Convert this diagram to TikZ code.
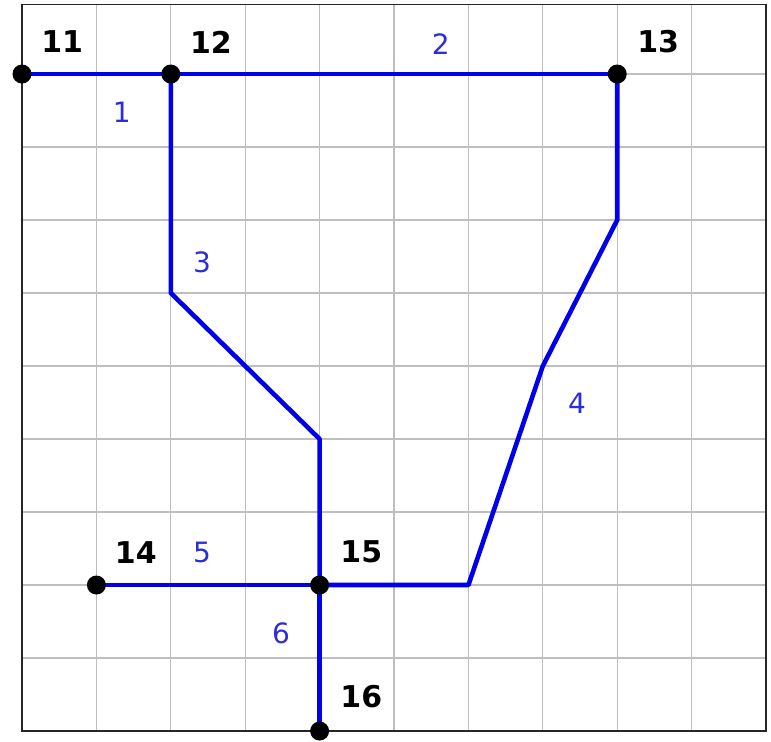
\documentclass[tikz,border=0pt]{standalone}
\usepackage{fontspec}
\setmainfont{DejaVu Sans}
\definecolor{edgeblue}{RGB}{0,0,235}
\definecolor{labblue}{RGB}{45,45,215}
\definecolor{gridgray}{RGB}{190,190,190}
\begin{document}
\begin{tikzpicture}[x=74.4pt,y=73pt,
  vertex/.style={circle,fill=black,inner sep=0pt,minimum size=19pt},
  edge/.style={draw=edgeblue,line width=4.6pt,line join=round},
  vlabel/.style={font=\fontsize{30}{30}\selectfont\bfseries,text=black,inner sep=0pt},
  elabel/.style={font=\fontsize{28}{28}\selectfont,text=labblue,inner sep=0pt}]
\useasboundingbox (-0.2957,-0.137) rectangle (10.067,10.014);
% grid
\foreach \i in {1,...,9} {
  \draw[gridgray,line width=1.2pt] (\i,0) -- (\i,9.95);
  \draw[gridgray,line width=1.2pt] (0,\i) -- (10,\i);
}
\draw[black!85,line width=1.6pt] (0,0) rectangle (10,9.95);
% vertices
\coordinate (v11) at (0,9);
\coordinate (v12) at (2,9);
\coordinate (v13) at (8,9);
\coordinate (v14) at (1,2);
\coordinate (v15) at (4,2);
\coordinate (v16) at (4,0);
% bends
\coordinate (b3a) at (2,6);
\coordinate (b3b) at (4,4);
\coordinate (b4a) at (8,7);
\coordinate (b4b) at (7,5);
\coordinate (b4c) at (6,2);
% edges
\draw[edge] (v11) -- (v12);
\draw[edge] (v12) -- (v13);
\draw[edge] (v12) -- (b3a) -- (b3b) -- (v15);
\draw[edge] (v13) -- (b4a) -- (b4b) -- (b4c) -- (v15);
\draw[edge] (v14) -- (v15);
\draw[edge] (v15) -- (v16);
% vertex dots
\foreach \v in {v11,v12,v13,v14,v15,v16} \node[vertex] (d\v) at (\v) {};
% vertex labels
\node[vlabel] (l11) at (0.54,9.44) {11};
\node[vlabel] (l12) at (2.54,9.44) {12};
\node[vlabel] (l13) at (8.55,9.44) {13};
\node[vlabel] (l14) at (1.53,2.45) {14};
\node[vlabel] (l15) at (4.56,2.45) {15};
\node[vlabel] (l16) at (4.56,0.47) {16};
% edge labels
\node[elabel] (e1) at (1.34,8.48) {1};
\node[elabel] (e2) at (5.63,9.41) {2};
\node[elabel] (e3) at (2.42,6.42) {3};
\node[elabel] (e4) at (7.46,4.49) {4};
\node[elabel] (e5) at (2.42,2.45) {5};
\node[elabel] (e6) at (3.48,1.34) {6};
\end{tikzpicture}
\end{document}
